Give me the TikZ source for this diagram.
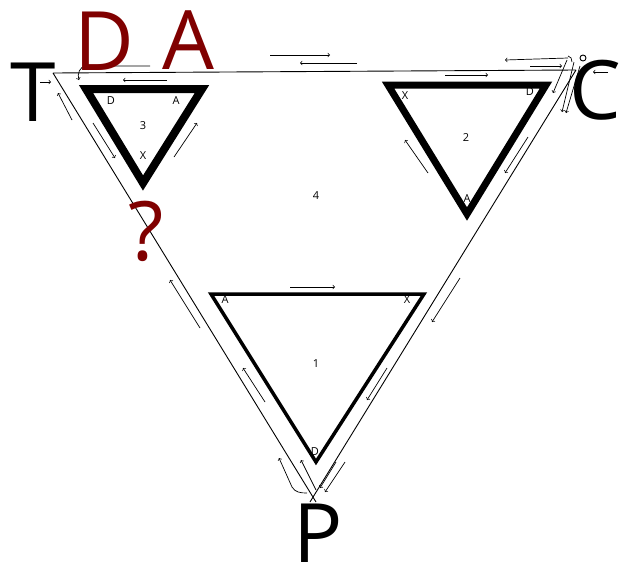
\documentclass[tikz,border=0pt]{standalone}
\usepackage{fontspec}
\setmainfont{Open Sans}
\usepackage{tikz}
\usetikzlibrary{positioning,arrows}
\definecolor{darkred}{RGB}{128,0,0}
\tikzset{
	tri/.style={line join=miter,line width=#1},
	tri/.default=7pt,
	harp/.style={->,>=to,line width=0.7pt},
	big/.style={inner sep=0pt,font=\fontsize{82}{82}\selectfont},
	lab/.style={inner sep=0pt,font=\fontsize{11}{11}\selectfont}
}
\begin{document}
\begin{tikzpicture}[line width=0.9pt,x=1pt,y=-1pt]
	\useasboundingbox (0,0) rectangle (619,571);
	\coordinate (TL) at (53,73);
	\coordinate (TR) at (576,70);
	\coordinate (BP) at (313,497);
	\draw (TL)--(TR) (TL)--(316,502) (TR)--(310,502);
	% the three thick triangles
	\draw[tri=8pt] (86,89)--(202,89)--(143,183)--cycle;
	\draw[tri=7pt] (388,85)--(546,85)--(467,214)--cycle;
	\draw[tri=3.5pt] (211,294)--(424,294)--(316,462)--cycle;
	\node[lab] (d3) at (111,101) {D};
	\node[lab] (a3) at (176,101) {A};
	\node[lab] (n3) at (143,126) {3};
	\node[lab] (x3) at (143,156) {X};
	\node[lab] (x2) at (405,96) {X};
	\node[lab] (d2) at (530,92) {D};
	\node[lab] (n2) at (466,138) {2};
	\node[lab] (a2) at (467,199) {A};
	\node[lab] (a1) at (225,300) {A};
	\node[lab] (x1) at (407,300) {X};
	\node[lab] (n1) at (316,364) {1};
	\node[lab] (d1) at (315,452) {D};
	\node[lab] (n4) at (316,196) {4};
	% small arrows
	\draw[harp] (270,55)--(330,55);
	\draw[harp] (357,63)--(300,63);
	\draw[harp] (167,80)--(123,80);
	\draw[harp] (150,66)--(86,66) to[out=180,in=110] (79,80);
	\draw[harp] (40,82)--(51,82);
	\draw[harp] (72,120)--(58,93);
	\draw[harp] (93,123)--(115,158);
	\draw[harp] (174,157)--(197,123);
	\draw[harp] (200,328)--(170,280);
	\draw[harp] (265,402)--(243,368);
	\draw[harp] (307,493) to[out=180,in=-60] (292,487)--(279,458);
	\draw[harp] (316,490)--(301,460);
	\draw[harp] (345,462)--(325,492);
	\draw[harp] (336,462)--(320,488);
	\draw[harp] (387,368)--(367,400);
	\draw[harp] (460,278)--(432,322);
	\draw[harp] (428,173)--(405,140);
	\draw[harp] (528,137)--(505,173);
	\draw[harp] (290,287)--(335,287);
	\draw[harp] (445,75)--(488,75);
	\draw[harp] (568,56) to[out=0,in=90] (572,62) (568,58)--(505,60);
	\draw[harp] (530,66)--(562,66);
	\draw[harp] (567,60)--(553,93);
	\draw[harp] (574,62)--(562,112);
	\draw[harp] (580,66)--(566,113);
	\draw[harp] (608,72)--(593,72);
	\draw (583,58) circle (3);
	% big letters
	\node[big] (T) at (33,92) {T};
	\node[big,text=darkred] (D) at (104,41) {D};
	\node[big,text=darkred] (A) at (188,40) {A};
	\node[big,text=darkred] (Q) at (146,231) {?};
	\node[big] (C) at (595,90) {C};
	\node[big] (P) at (318,533) {P};
\end{tikzpicture}
\end{document}
